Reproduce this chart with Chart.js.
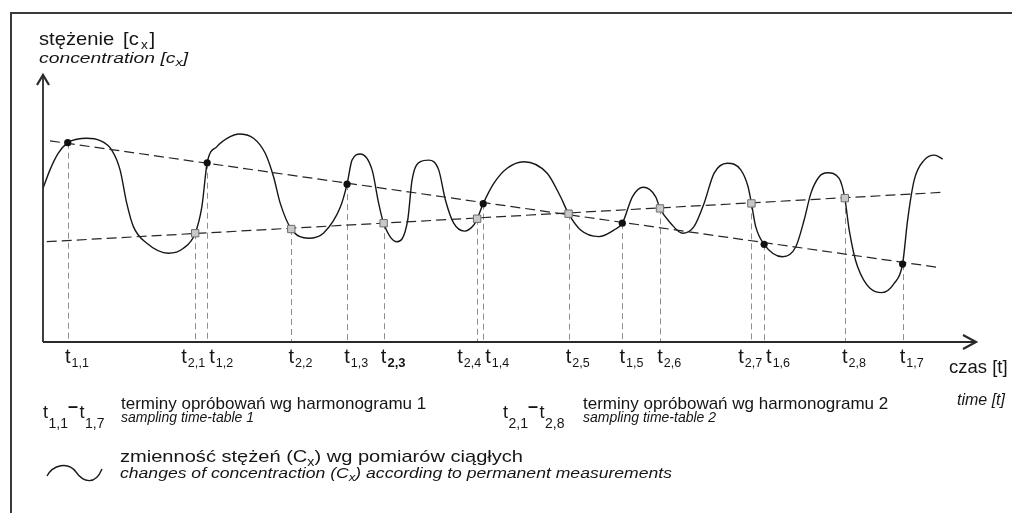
<!DOCTYPE html>
<html><head><meta charset="utf-8">
<script src="https://cdn.jsdelivr.net/npm/chart.js@4.4.1/dist/chart.umd.min.js"></script>
<style>html,body{margin:0;padding:0;background:#fff;}#wrap{position:relative;width:1012px;height:513px;}</style>
</head><body><div id="wrap"><canvas id="c" width="1012" height="513"></canvas></div>
<script>
// continuous measurement curve (time, concentration) — schematic units 0..100
const curveTime = [0.0,0.75,1.64,2.65,3.62,4.69,6.12,7.37,8.26,8.98,9.69,11.13,13.44,15.05,16.31,17.03,17.60,18.64,20.06,20.95,22.56,23.82,24.71,25.43,26.61,28.47,30.08,31.87,32.59,33.12,34.01,35.27,35.98,36.51,37.95,39.09,39.56,40.45,41.34,42.41,43.13,44.02,45.17,46.17,46.53,47.18,48.32,49.75,51.53,54.04,55.47,56.33,57.62,59.58,61.19,62.09,63.17,64.34,65.67,66.13,67.27,68.53,69.77,70.85,71.92,73.36,74.79,75.57,75.93,76.39,77.29,79.26,80.69,81.58,82.30,83.19,84.09,85.33,85.94,86.41,87.31,89.91,91.23,92.13,92.67,93.38,94.45,95.53,96.43];
const curveConc = [58.2,65.2,71.5,75.5,76.8,77.2,76.3,72.7,65.2,52.5,43.7,37.4,33.6,35.5,41.2,51.3,67.9,74.0,77.8,78.8,77.2,71.5,62.6,52.5,42.8,39.3,41.3,51.1,59.8,68.9,71.2,65.2,52.5,45.0,38.0,46.2,61.4,68.3,68.9,65.2,53.8,45.0,42.0,44.3,46.7,52.4,60.1,65.8,68.3,63.9,55.0,48.6,42.4,39.9,42.4,45.0,55.0,58.6,55.0,50.6,45.0,41.2,43.7,52.5,63.9,67.7,65.2,58.8,52.5,43.7,37.0,32.3,36.1,46.2,56.3,62.6,64.1,62.0,54.5,42.4,28.5,18.7,22.2,29.5,46.2,61.4,68.9,70.8,69.3];

// sampling time-table 1
const table1Time = [2.65,17.60,32.59,47.18,62.09,77.29,92.13];
const table1Conc = [75.5,67.9,59.8,52.4,45.0,37.0,29.5];
const table1Labels = ['1,1','1,2','1,3','1,4','1,5','1,6','1,7'];
// sampling time-table 2
const table2Time = [16.31,26.61,36.51,46.53,56.33,66.13,75.93,85.94];
const table2Conc = [41.2,42.8,45.0,46.7,48.6,50.6,52.5,54.5];
const table2Labels = ['2,1','2,2','2,3','2,4','2,5','2,6','2,7','2,8'];
// trend lines
const trend1Time = [0.75,95.89];
const trend1Conc = [76.2,28.3];
const trend2Time = [0.40,96.43];
const trend2Conc = [38.0,56.7];

const FF = "'Liberation Sans', Arial, Helvetica, sans-serif";
const boldTicks = new Set(['2,3']);

function pts(xs, ys){ return xs.map((x,i)=>({x:x,y:ys[i]})); }
function drawParts(ctx, x, y, parts){
  let cx = x;
  for (const p of parts){
    ctx.font = p.f;
    cx += (p.dx||0);
    ctx.fillText(p.t, cx, y + (p.dy||0));
    cx += ctx.measureText(p.t).width;
  }
  return cx;
}
function widthOf(ctx, parts){
  let w = 0;
  for (const p of parts){ ctx.font = p.f; w += (p.dx||0) + ctx.measureText(p.t).width; }
  return w;
}
// draw a group of text parts stretched horizontally to span x..right
function drawFit(ctx, x, y, parts, right){
  const w = widthOf(ctx, parts);
  const sx = (right - x) / w;
  ctx.save(); ctx.translate(x, 0); ctx.scale(sx, 1);
  drawParts(ctx, 0, y, parts);
  ctx.restore();
}
function rangeLabel(ctx, x, y, a, b){
  const tf = `18px ${FF}`, sf = `14px ${FF}`;
  drawParts(ctx, x, y, [
    {t:'t', f:tf},{t:a, f:sf, dy:10, dx:0.5},
    {t:'\u2013', f:`bold 18px ${FF}`, dy:-6, dx:0},
    {t:'t', f:tf, dx:1.5},{t:b, f:sf, dy:10, dx:0.5}
  ]);
}

const tickItems = [];
table1Time.forEach((t,i)=>tickItems.push({t:t, lab:table1Labels[i]}));
table2Time.forEach((t,i)=>tickItems.push({t:t, lab:table2Labels[i]}));
tickItems.sort((a,b)=>a.t-b.t);

const schematic = {
  id:'schematic',
  beforeDatasetsDraw(chart){
    const ctx = chart.ctx, xs = chart.scales.x, ys = chart.scales.y, ca = chart.chartArea;
    ctx.save();
    ctx.strokeStyle = '#8e8e8e'; ctx.lineWidth = 1; ctx.setLineDash([6,4]);
    const all = pts(table1Time, table1Conc).concat(pts(table2Time, table2Conc));
    for (const p of all){
      const px = Math.round(xs.getPixelForValue(p.x)) + 0.5;
      const py = ys.getPixelForValue(p.y);
      ctx.beginPath(); ctx.moveTo(px, py); ctx.lineTo(px, ca.bottom); ctx.stroke();
    }
    ctx.restore();
  },
  afterDraw(chart){
    const ctx = chart.ctx, xs = chart.scales.x, ca = chart.chartArea;
    ctx.save();
    // frame
    ctx.strokeStyle = '#3a3a3a'; ctx.lineWidth = 2;
    ctx.beginPath(); ctx.moveTo(11, 513); ctx.lineTo(11, 13); ctx.lineTo(1012, 13); ctx.stroke();
    // axes
    ctx.strokeStyle = '#2a2a2a'; ctx.lineWidth = 1.8;
    ctx.beginPath(); ctx.moveTo(ca.left, ca.bottom); ctx.lineTo(ca.left, ca.top - 3); ctx.stroke();
    ctx.beginPath(); ctx.moveTo(ca.left, ca.bottom); ctx.lineTo(ca.right, ca.bottom); ctx.stroke();
    ctx.lineWidth = 2.2;
    ctx.beginPath(); ctx.moveTo(ca.left - 6, ca.top + 7); ctx.lineTo(ca.left, ca.top - 3); ctx.lineTo(ca.left + 6, ca.top + 7); ctx.stroke();
    ctx.beginPath(); ctx.moveTo(ca.right - 13, ca.bottom - 7); ctx.lineTo(ca.right, ca.bottom); ctx.lineTo(ca.right - 13, ca.bottom + 7); ctx.stroke();

    ctx.fillStyle = '#151515'; ctx.textBaseline = 'alphabetic'; ctx.textAlign = 'left';
    // tick labels t_{i,j}
    const items = tickItems.map(o=>({t:o.t, lab:o.lab, px:xs.getPixelForValue(o.t)}));
    const tFont = `20px ${FF}`;
    items.forEach((it,i)=>{
      ctx.font = tFont; const tw = ctx.measureText('t').width;
      const sFont = boldTicks.has(it.lab) ? `bold 13px ${FF}` : `12.5px ${FF}`;
      ctx.font = sFont; const sw = ctx.measureText(it.lab).width;
      const w = tw + 1 + sw;
      let left = it.px - tw/2;
      const nx = items[i+1], pv = items[i-1];
      if (nx && nx.px - it.px < 20) left = nx.px - 2 - w;
      else if (pv && it.px - pv.px < 20) left = it.px + 2;
      drawParts(ctx, left, ca.bottom + 21, [{t:'t', f:tFont},{t:it.lab, f:sFont, dy:4, dx:1}]);
    });

    // axis titles
    drawFit(ctx, 39, 45, [{t:'stężenie ', f:`18.5px ${FF}`},{t:'[c', f:`18.5px ${FF}`, dx:3},{t:'x', f:`12.5px ${FF}`, dy:4, dx:2},{t:']', f:`18.5px ${FF}`, dx:1.5}], 155);
    drawFit(ctx, 39, 63, [{t:'concentration [c', f:`italic 15px ${FF}`},{t:'x', f:`italic 11px ${FF}`, dy:3},{t:']', f:`italic 15px ${FF}`}], 188);
    drawParts(ctx, 949, 373, [{t:'czas [t]', f:`18.5px ${FF}`}]);
    drawParts(ctx, 957, 405, [{t:'time [t]', f:`italic 16px ${FF}`}]);

    // legend
    rangeLabel(ctx, 43, 418, '1,1', '1,7');
    drawParts(ctx, 121, 409, [{t:'terminy opróbowań wg harmonogramu 1', f:`17px ${FF}`}]);
    drawParts(ctx, 121, 422, [{t:'sampling time-table 1', f:`italic 14px ${FF}`}]);
    rangeLabel(ctx, 503, 418, '2,1', '2,8');
    drawParts(ctx, 583, 409, [{t:'terminy opróbowań wg harmonogramu 2', f:`17px ${FF}`}]);
    drawParts(ctx, 583, 422, [{t:'sampling time-table 2', f:`italic 14px ${FF}`}]);

    // wave symbol
    ctx.strokeStyle = '#1a1a1a'; ctx.lineWidth = 1.4;
    ctx.beginPath(); ctx.moveTo(47, 476);
    ctx.bezierCurveTo(53, 465, 68, 461, 76, 472);
    ctx.bezierCurveTo(83, 482, 95, 486, 102, 469);
    ctx.stroke();
    drawFit(ctx, 120, 462, [{t:'zmienność stężeń (C', f:`17px ${FF}`},{t:'x', f:`12px ${FF}`, dy:4},{t:') wg pomiarów ciągłych', f:`17px ${FF}`}], 523);
    drawFit(ctx, 120, 478, [{t:'changes of concentraction (C', f:`italic 14px ${FF}`},{t:'x', f:`italic 10.5px ${FF}`, dy:3},{t:') according to permanent measurements', f:`italic 14px ${FF}`}], 672);
    ctx.restore();
  }
};

new Chart(document.getElementById('c'), {
  type:'scatter',
  data:{datasets:[
    {label:'t1', data:pts(table1Time, table1Conc), pointStyle:'circle', pointRadius:3.6, backgroundColor:'#111', borderColor:'#111', borderWidth:0, order:0},
    {label:'t2', data:pts(table2Time, table2Conc), pointStyle:'rect', pointRadius:5.2, backgroundColor:'#c8c8c8', borderColor:'#6e6e6e', borderWidth:1, order:0},
    {type:'line', label:'trend1', data:pts(trend1Time, trend1Conc), borderColor:'#262626', borderWidth:1.2, borderDash:[10,5], pointRadius:0, fill:false, order:1},
    {type:'line', label:'trend2', data:pts(trend2Time, trend2Conc), borderColor:'#262626', borderWidth:1.2, borderDash:[10,5], pointRadius:0, fill:false, order:1},
    {type:'line', label:'curve', data:pts(curveTime, curveConc), borderColor:'#161616', borderWidth:1.4, pointRadius:0, fill:false, cubicInterpolationMode:'monotone', order:2}
  ]},
  options:{
    responsive:false, animation:false, devicePixelRatio:1, events:[],
    layout:{padding:{left:43, top:78, right:36, bottom:171}},
    scales:{x:{type:'linear', min:0, max:100, display:false}, y:{type:'linear', min:0, max:100, display:false}},
    plugins:{legend:{display:false}, tooltip:{enabled:false}}
  },
  plugins:[schematic]
});
</script></body></html>
